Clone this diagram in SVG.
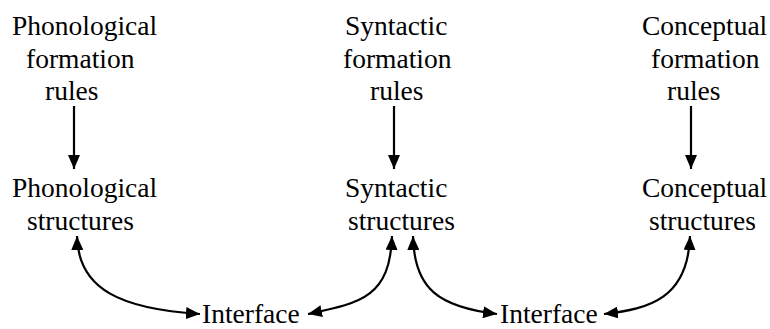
<svg xmlns="http://www.w3.org/2000/svg" width="770" height="329" viewBox="0 0 770 329">
  <style>
    text { font-family: "Liberation Serif", "Times New Roman", serif; font-size: 27.5px; fill: #000; }
    .conn { fill: none; stroke: #000; stroke-width: 2.2; }
  </style>
  <defs>
    <marker id="head" viewBox="0 0 14 12" refX="14" refY="6" markerWidth="14" markerHeight="12" markerUnits="userSpaceOnUse" orient="auto-start-reverse">
      <path d="M0,0 L14,6 L0,12 z" fill="#000"/>
    </marker>
  </defs>
  <rect width="770" height="329" fill="#fff"/>

  <!-- formation rules row -->
  <g id="phon-rules">
    <text x="12" y="35">Phonological</text>
    <text x="26" y="68">formation</text>
    <text x="45" y="100">rules</text>
  </g>
  <g id="syn-rules">
    <text x="345" y="35">Syntactic</text>
    <text x="343" y="68">formation</text>
    <text x="370" y="100">rules</text>
  </g>
  <g id="con-rules">
    <text x="642" y="35">Conceptual</text>
    <text x="651" y="68">formation</text>
    <text x="667" y="100">rules</text>
  </g>

  <!-- structures row -->
  <g id="phon-struct">
    <text x="12" y="197">Phonological</text>
    <text x="27" y="230">structures</text>
  </g>
  <g id="syn-struct">
    <text x="345" y="197">Syntactic</text>
    <text x="348" y="230">structures</text>
  </g>
  <g id="con-struct">
    <text x="642" y="197">Conceptual</text>
    <text x="649" y="230">structures</text>
  </g>

  <!-- interfaces -->
  <g id="interface-1">
    <text x="202" y="323">Interface</text>
  </g>
  <g id="interface-2">
    <text x="500" y="323">Interface</text>
  </g>

  <g id="connectors">
    <line class="conn" x1="74" y1="106" x2="74" y2="169" marker-end="url(#head)"/>
    <line class="conn" x1="394" y1="106" x2="394" y2="169" marker-end="url(#head)"/>
    <line class="conn" x1="691" y1="106" x2="691" y2="169" marker-end="url(#head)"/>
    <path class="conn" d="M77,236 C78,290 122,309 200,314" marker-start="url(#head)" marker-end="url(#head)"/>
    <path class="conn" d="M392,236 C390,298 360,303 308,314" marker-start="url(#head)" marker-end="url(#head)"/>
    <path class="conn" d="M413,236 C414,290 440,307 497,314" marker-start="url(#head)" marker-end="url(#head)"/>
    <path class="conn" d="M690,236 C688,298 650,309 604,314" marker-start="url(#head)" marker-end="url(#head)"/>
  </g>
</svg>
